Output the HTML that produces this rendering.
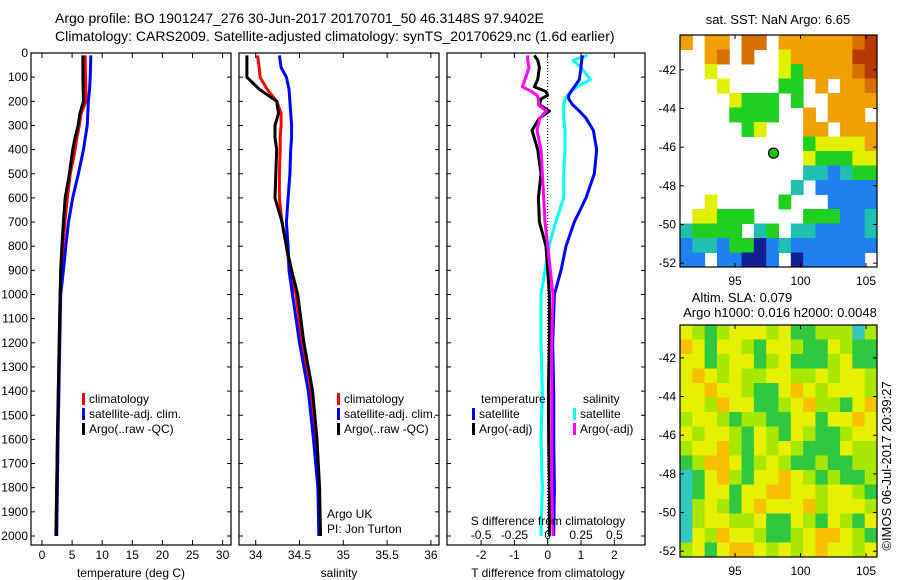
<!DOCTYPE html>
<html><head><meta charset="utf-8"><style>
body{margin:0;background:#fff}
svg{display:block;font-family:"Liberation Sans",sans-serif}
text{fill:#000}
</style></head><body>
<svg id="c" width="900" height="580" viewBox="0 0 900 580">
<text x="55" y="23" font-size="14">Argo profile: BO 1901247_276 30-Jun-2017 20170701_50 46.3148S 97.9402E</text>
<text x="55" y="41" font-size="14">Climatology: CARS2009. Satellite-adjusted climatology: synTS_20170629.nc (1.6d earlier)</text>
<text x="778" y="24" font-size="13" text-anchor="middle">sat. SST: NaN Argo: 6.65</text>
<text x="742" y="302" font-size="13" text-anchor="middle">Altim. SLA: 0.079</text>
<text x="780" y="317" font-size="13" text-anchor="middle">Argo h1000: 0.016 h2000: 0.0048</text>
<text transform="translate(891,466) rotate(-90)" font-size="13" text-anchor="middle">©IMOS 06-Jul-2017 20:39:27</text>
<g id="g"></g>
</svg>
<script>
const depths=[10,60,100,150,200,250,300,350,400,500,600,700,800,900,1000,1200,1400,1600,1800,2000];
const tClim=[7.2,7.2,7.25,7.3,7.3,6.5,6.2,5.8,5.5,4.7,4.2,3.8,3.45,3.2,3.0,2.85,2.7,2.55,2.45,2.3];
const tSat=[8.1,8.05,8.0,7.9,7.7,7.6,7.5,7.2,6.9,6.05,5.1,4.4,3.95,3.55,3.1,2.95,2.8,2.65,2.55,2.45];
const tArgo=[6.8,6.8,6.8,6.85,6.9,6.3,6.0,5.5,5.1,4.55,3.85,3.55,3.3,3.1,3.0,2.85,2.7,2.55,2.45,2.35];
const sClim=[34.02,34.04,34.05,34.13,34.24,34.29,34.29,34.28,34.28,34.27,34.27,34.3,34.35,34.39,34.46,34.53,34.63,34.68,34.72,34.74];
const sSat=[34.27,34.29,34.35,34.38,34.39,34.4,34.41,34.41,34.4,34.39,34.37,34.35,34.37,34.38,34.42,34.5,34.6,34.66,34.71,34.72];
const sArgo=[33.9,33.9,33.9,34.04,34.24,34.26,34.22,34.22,34.24,34.23,34.22,34.3,34.35,34.41,34.48,34.55,34.65,34.7,34.73,34.74];
const dDepths=[10,30,60,110,140,160,175,190,215,240,270,320,400,500,600,700,800,900,1000,1200,1400,1600,1800,2000];
const dtSat=[1.05,1.02,1.0,0.95,0.8,0.7,0.63,0.63,0.75,0.95,1.15,1.37,1.47,1.4,1.15,0.8,0.55,0.4,0.2,0.15,0.18,0.18,0.2,0.18];
const dtArgo=[-0.4,-0.3,-0.25,-0.3,-0.4,-0.05,0,-0.2,-0.25,0.05,-0.25,-0.47,-0.3,-0.2,-0.28,-0.25,-0.05,0,0.05,0.05,0.02,0.03,0.05,0.05];
const dsSat=[0.3,0.19,0.25,0.32,0.22,0.17,0.15,0.13,0.12,0.12,0.12,0.13,0.13,0.12,0.12,0.06,0.01,-0.02,-0.05,-0.05,-0.04,-0.05,-0.04,-0.05];
const dsArgo=[-0.15,-0.15,-0.14,-0.17,-0.19,-0.12,-0.08,-0.07,-0.07,-0.01,-0.06,-0.08,-0.05,-0.04,-0.03,-0.02,0,0.02,0.04,0.03,0.03,0.03,0.03,0.04];
const depthTicks=[0,100,200,300,400,500,600,700,800,900,1000,1100,1200,1300,1400,1500,1600,1700,1800,1900,2000];
const tTicks=[0,5,10,15,20,25,30];
const sTicks=[34,34.5,35,35.5,36];
const dtTicks=[-2,-1,0,1,2];
const dsTicks=[-0.5,-0.25,0,0.25,0.5];
const dsTickLabels=["-0.5","-0.25","0","0.25","0.5"];
const latTicks=[-42,-44,-46,-48,-50,-52];
const lonTicks=[95,100,105];
const sstGrid=["o.oo.rr.oooooorR","..or.r..yoooooRR","..y.....ygoooorR","...y....gg.o.oor","....yggg.g..oooo","....gggg..o.ooo.",".....gy...oo.ooo","..........gyyyyo","..........ygggyy","..........ccbcgg",".........c.bbbbb","..y.....g...bbbb",".yyggg....gggbbc","cgggg.cg.ccbbbbc","bccbggnbcbbbbbbb","bb.bbnnb.nbbbbb."];
const slaGrid=["YLGLYYYLYGGLLLCL","OYGYYLGYYLGGYLGG","YYGLYYGLYGGGLYGG","YOYLYLLYYLLYLYYL","YYOYYLGGYOYLYYYL","YYLOYYGGLYOLLGYO","LYYLGLLGGYYGYYOY","YLYYLGYLGYLGGLYY","LYYOLGYLYLGGGYLL","GLOOYGLYLGGLGGLL","CGYOLGYYOYLGLGGL","CGYYGYYOOYYLYYLG","CLYLGYOYYYOLYYYL","CLYYLLYGGYLGYLGY","CYLOYYLGGLYOOYLG","LYGYOOYLYLYOYYLY"];
const floatLon=97.94, floatLat=-46.31;

const NS="http://www.w3.org/2000/svg";
const root=document.getElementById('g');
function mk(tag,attrs,parent){const e=document.createElementNS(NS,tag);for(const k in attrs)e.setAttribute(k,attrs[k]);(parent||root).appendChild(e);return e;}
function txt(x,y,s,size,anchor,parent){const e=mk('text',{x:x,y:y,'font-size':size,'text-anchor':anchor||'middle'},parent);e.textContent=s;return e;}
const yD=d=>53+d*0.2415;
const axTop=53,axBot=545;
const xT=v=>42+v*6.02;
const xS=v=>255.7+(v-34)*87.6;
const xDT=v=>547.7+v*33.3;
const xDS=v=>547.7+v*133.3;

function frame(x0,x1,name,labels){
  const g=mk('g',{});
  
  
  mk('rect',{x:x0,y:axTop,width:x1-x0,height:axBot-axTop,fill:'none',stroke:'#000','stroke-width':1.2},g);
  depthTicks.forEach(d=>{const y=yD(d);mk('line',{x1:x0,x2:x0+4,y1:y,y2:y,stroke:'#000'},g);mk('line',{x1:x1-4,x2:x1,y1:y,y2:y,stroke:'#000'},g);
    if(labels){const t=txt(28,y+4,String(d),12,'end',g);}});
  return g;
}
function xticks(g,ticks,fx,lbls,y){ticks.forEach((v,i)=>{const x=fx(v);mk('line',{x1:x,x2:x,y1:axBot,y2:axBot-5,stroke:'#000'},g);mk('line',{x1:x,x2:x,y1:axTop,y2:axTop+5,stroke:'#000'},g);
  const t=txt(x,y,lbls?lbls[i]:String(v),12,'middle',g);});}
function line(g,xs,ds,fx,color,name){
  const pts=xs.map((v,i)=>fx(v).toFixed(1)+','+yD(ds[i]).toFixed(1)).join(' ');
  const p=mk('polyline',{points:pts,fill:'none',stroke:color,'stroke-width':3,'stroke-linejoin':'round'},g);
  
  
}
function legend(g,x,y,items){items.forEach((it,i)=>{mk('rect',{x:x,y:y+i*15-10,width:3,height:12,fill:it[0]},g);txt(x+7,y+i*15,it[1],12,'start',g);});}

// Panel 1
const p1=frame(31,231,'temperature-panel',true);
line(p1,tClim,depths,xT,'#f00','temp-climatology-line');
line(p1,tSat,depths,xT,'#00f','temp-satellite-line');
line(p1,tArgo,depths,xT,'#000','temp-argo-line');
xticks(p1,tTicks,xT,null,559);
txt(131,577,'temperature (deg C)',12,'middle',p1);
legend(p1,82,403,[['#f00','climatology'],['#00f','satellite-adj. clim.'],['#000','Argo(..raw -QC)']]);

// Panel 2
const p2=frame(239,439,'salinity-panel',false);
line(p2,sClim,depths,xS,'#f00','sal-climatology-line');
line(p2,sSat,depths,xS,'#00f','sal-satellite-line');
line(p2,sArgo,depths,xS,'#000','sal-argo-line');
xticks(p2,sTicks,xS,['34','34.5','35','35.5','36'],559);
txt(339,577,'salinity',12,'middle',p2);
legend(p2,337,403,[['#f00','climatology'],['#00f','satellite-adj. clim.'],['#000','Argo(..raw -QC)']]);
txt(327,518,'Argo UK',12,'start',p2);
txt(327,533,'PI: Jon Turton',12,'start',p2);

// Panel 3
const p3=frame(447,645,'difference-panel',false);
mk('line',{x1:xDT(0),x2:xDT(0),y1:axTop,y2:axBot,stroke:'#000','stroke-dasharray':'1,2'},p3);
line(p3,dsSat,dDepths,xDS,'#0ff','sal-diff-satellite-line');
line(p3,dtSat,dDepths,xDT,'#00f','temp-diff-satellite-line');
line(p3,dtArgo,dDepths,xDT,'#000','temp-diff-argo-line');
line(p3,dsArgo,dDepths,xDS,'#f0f','sal-diff-argo-line');
xticks(p3,dtTicks,xDT,null,559);
dsTicks.forEach((v,i)=>{const t=txt(xDS(v),539,dsTickLabels[i],12,'middle',p3);});
txt(548,525,'S difference from climatology',12,'middle',p3);
txt(548,577,'T difference from climatology',12,'middle',p3);
txt(481,403,'temperature',12,'start',p3);
txt(583,403,'salinity',12,'start',p3);
legend(p3,472,418,[['#00f','satellite'],['#000','Argo(-adj)']]);
legend(p3,573,418,[['#0ff','satellite'],['#f0f','Argo(-adj)']]);

// Maps
const sstCol={o:'#f0a000',r:'#d87000',R:'#b83800',y:'#e0f000',g:'#20d020',c:'#20c0b0',b:'#2080f0',B:'#1050d0',n:'#102090'};
const slaCol={Y:'#e6f000',L:'#a8e800',G:'#30c840',O:'#f8c000',C:'#30c8c0'};
function map(y0,y1,grid,cols,name,latTop,latBot){
  const x0=680,x1=877;
  const g=mk('g',{});
  
  
  const rows=grid.length,nc=grid[0].length,cw=(x1-x0)/nc,rh=(y1-y0)/rows;
  grid.forEach((r,i)=>{[...r].forEach((ch,j)=>{if(cols[ch])mk('rect',{x:x0+j*cw,y:y0+i*rh,width:cw+0.5,height:rh+0.5,fill:cols[ch]},g);});});
  mk('rect',{x:x0,y:y0,width:x1-x0,height:y1-y0,fill:'none',stroke:'#000','stroke-width':1.2},g);
  const lonX=v=>x0+(v-90.8)*13.1;
  const latY=v=>y0+(latTop-v)/(latTop-latBot)*(y1-y0);
  latTicks.forEach(v=>{const y=latY(v);mk('line',{x1:x0,x2:x0+4,y1:y,y2:y,stroke:'#000'},g);mk('line',{x1:x1-4,x2:x1,y1:y,y2:y,stroke:'#000'},g);txt(676,y+4,String(v),12,'end',g);});
  lonTicks.forEach(v=>{const x=lonX(v);mk('line',{x1:x,x2:x,y1:y1,y2:y1-4,stroke:'#000'},g);mk('line',{x1:x,x2:x,y1:y0,y2:y0+4,stroke:'#000'},g);txt(x,y1+18,String(v),12,'middle',g);});
  return {g,lonX,latY};
}
const m1=map(35,267,sstGrid,sstCol,'sst-map',-40.2,-52.2);
const fm=mk('circle',{cx:m1.lonX(floatLon),cy:m1.latY(floatLat),r:5,fill:'#20c020',stroke:'#000','stroke-width':1.2},m1.g);


map(325,557,slaGrid,slaCol,'sla-map',-40.3,-52.3);
</script>
</body></html>
